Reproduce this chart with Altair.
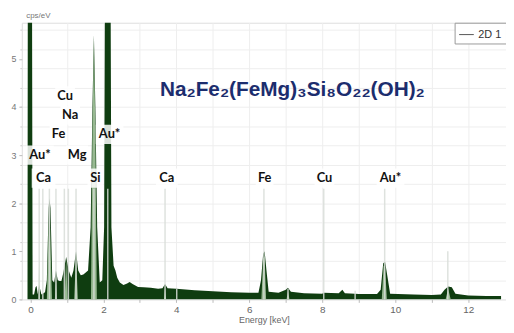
import altair as alt
import pandas as pd

# ---- spectrum (keV, cps/eV) ----
energy = [-0.08, -0.07, 0.04, 0.06, 0.10, 0.14, 0.17, 0.20, 0.24, 0.30, 0.40, 0.45, 0.50, 0.52, 0.55,
          0.60, 0.65, 0.70, 0.75, 0.80, 0.85, 0.90, 0.98, 1.05, 1.12, 1.18, 1.25, 1.31, 1.38, 1.45,
          1.50, 1.58, 1.65, 1.70, 1.74, 1.78, 1.83, 1.90, 1.97, 2.02, 2.05, 2.19, 2.22, 2.28, 2.33,
          2.38, 2.45, 2.55, 2.65, 2.72, 2.80, 2.95, 3.10, 3.30, 3.50, 3.62, 3.69, 3.76, 4.00, 4.50,
          5.00, 5.50, 6.00, 6.25, 6.32, 6.38, 6.42, 6.47, 6.53, 6.80, 7.00, 7.06, 7.14, 7.50, 8.00,
          8.04, 8.45, 8.55, 8.62, 8.90, 9.00, 9.50, 9.60, 9.67, 9.72, 9.78, 9.86, 10.50, 11.00, 11.25,
          11.35, 11.45, 11.55, 11.65, 12.00, 12.50, 12.90]
counts = [0.0, 8.0, 8.0, 0.1, 0.1, 0.25, 0.28, 0.1, 0.3, 0.1, 0.15, 0.4, 1.9, 2.1, 1.9,
          0.4, 0.35, 0.6, 0.4, 0.38, 0.38, 0.55, 0.88, 0.6, 0.45, 0.6, 1.0, 0.6, 0.5, 0.52,
          0.55, 0.6, 1.5, 4.0, 5.5, 4.0, 1.5, 0.35, 0.4, 1.5, 8.0, 8.0, 1.5, 0.7, 0.6,
          0.45, 0.35, 0.3, 0.33, 0.36, 0.32, 0.26, 0.25, 0.24, 0.22, 0.23, 0.32, 0.23, 0.22, 0.19,
          0.17, 0.15, 0.14, 0.14, 0.4, 0.95, 1.0, 0.6, 0.16, 0.14, 0.2, 0.24, 0.16, 0.13, 0.12,
          0.14, 0.13, 0.2, 0.13, 0.12, 0.11, 0.11, 0.2, 0.75, 0.78, 0.5, 0.12, 0.1, 0.09, 0.1,
          0.2, 0.27, 0.25, 0.12, 0.08, 0.07, 0.07]
series_name = "2D 1"

# ---- fitted peak components (light overlay) ----
fit_peak = (["AuN"] * 3 + ["O"] * 5 + ["FeL"] * 3 + ["NaCu"] * 3 + ["Mg"] * 3 + ["Si"] * 5 +
            ["Ca"] * 3 + ["Fe"] * 4 + ["FeKb"] * 3 + ["AuLa"] * 4 + ["AuLb"] * 3)
fit_energy = [0.22, 0.24, 0.26,
              0.45, 0.49, 0.52, 0.55, 0.59,
              0.67, 0.70, 0.73,
              0.94, 0.98, 1.02,
              1.20, 1.25, 1.30,
              1.66, 1.70, 1.74, 1.78, 1.82,
              3.66, 3.69, 3.72,
              6.33, 6.38, 6.42, 6.46,
              7.02, 7.06, 7.10,
              9.63, 9.68, 9.72, 9.77,
              11.38, 11.45, 11.52]
fit_counts = [0.0, 0.95, 0.0,
              0.0, 1.2, 2.0, 1.2, 0.0,
              0.0, 0.55, 0.0,
              0.0, 0.85, 0.0,
              0.0, 0.95, 0.0,
              0.0, 3.5, 5.4, 3.5, 0.0,
              0.0, 0.28, 0.0,
              0.0, 0.85, 0.9, 0.0,
              0.0, 0.18, 0.0,
              0.0, 0.7, 0.7, 0.0,
              0.0, 0.22, 0.0]

# ---- element marker lines ----
line_energy = [0.24, 0.34, 0.52, 0.70, 0.93, 1.04, 1.25, 1.74, 2.12, 3.69, 6.40, 8.04, 9.71,
               4.01, 7.06, 8.90, 11.44]
line_top = [2.3, 2.3, 2.3, 2.3, 2.3, 2.3, 2.3, 2.3, 2.3, 2.3, 2.3, 2.3, 2.3,
            0.22, 0.22, 0.18, 1.0]

# ---- element labels ----
label_text = ["Cu", "Na", "Fe", "Au*", "Mg", "Au*", "Ca", "Si", "Ca", "Fe", "Cu", "Au*"]
label_energy = [0.95, 1.09, 0.77, 0.26, 1.28, 2.17, 0.36, 1.78, 3.74, 6.42, 8.06, 9.87]
label_level = [4.23, 3.83, 3.43, 3.0, 3.0, 3.43, 2.52, 2.52, 2.52, 2.52, 2.52, 2.52]
label_box = [20, 20, 18, 28, 22, 28, 24, 16, 22, 18, 20, 28]

formula = "Na\u2082Fe\u2082(FeMg)\u2083Si\u2088O\u2082\u2082(OH)\u2082"
formula_energy = [3.55]
formula_level = [4.35]

# axis tick positions
x_ticks = [i * 0.5 for i in range(0, 26)]
y_label_ticks = [0, 1, 2, 3, 4, 5]
y_grid_ticks = [round(i * 0.4, 1) for i in range(0, 15)]

spec = pd.DataFrame({"E": energy, "I": counts, "s": series_name})
fit = pd.DataFrame({"E": fit_energy, "I": fit_counts, "peak": fit_peak})
lines = pd.DataFrame({"E": line_energy, "top": line_top, "base": 0.0})
labels = pd.DataFrame({"t": label_text, "E": label_energy, "y": label_level,
                       "lo": [v - 0.2 for v in label_level], "hi": [v + 0.2 for v in label_level],
                       "w": label_box})
form = pd.DataFrame({"t": [formula], "E": formula_energy, "y": formula_level})

xscale = alt.Scale(domain=[-0.1, 12.9], nice=False, zero=False)
yscale = alt.Scale(domain=[0, 5.75], nice=False)

xaxis = alt.Axis(values=x_ticks, labelExpr="datum.value % 2 == 0 ? format(datum.value, 'd') : ''",
                 labelOverlap=False,
                 title="Energy [keV]", titleFontSize=9, titleColor="#666", titleFontWeight="normal",
                 titlePadding=1, labelColor="#666", labelFontSize=10, tickColor="#bbb", tickSize=3,
                 domain=False, gridColor="#eeeeee", labelPadding=2)
yaxis = alt.Axis(values=y_label_ticks, format="d", labelOverlap=False, grid=False,
                 title="cps/eV", titleAngle=0, titleAlign="left", titleBaseline="bottom",
                 titleX=4, titleY=-3, titleFontSize=8, titleColor="#777", titleFontWeight="normal",
                 labelColor="#777", labelFontSize=9, labelPadding=3, tickColor="#bbb", tickSize=3,
                 domain=False, orient="left")
ygrid = alt.Axis(values=y_grid_ticks, labels=False, title=None, grid=True, gridColor="#eeeeee",
                 ticks=True, tickSize=2, tickColor="#ccc", domain=False, orient="left")

area = alt.Chart(spec).mark_area(clip=True, interpolate="linear").encode(
    x=alt.X("E:Q", scale=xscale, axis=xaxis),
    y=alt.Y("I:Q", scale=yscale, axis=yaxis),
    color=alt.Color("s:N", scale=alt.Scale(range=["#0f3d10"]),
                    legend=alt.Legend(title=None, orient="top-right", offset=0, symbolType="stroke",
                                      symbolStrokeColor="#555", symbolStrokeWidth=1, symbolSize=220,
                                      labelFontSize=11, labelColor="#333", fillColor="white",
                                      strokeColor="#999", padding=4)),
)

fit_layer = alt.Chart(fit).mark_area(clip=True, color="#a6c6a0", opacity=0.9).encode(
    x=alt.X("E:Q", scale=xscale),
    y=alt.Y("I:Q", scale=yscale, axis=ygrid),
    detail="peak:N",
)

rules = alt.Chart(lines).mark_rule(color="#d8ddd8", strokeWidth=1.5, opacity=0.85).encode(
    x=alt.X("E:Q", scale=xscale),
    y=alt.Y("base:Q", scale=yscale, axis=None),
    y2="top:Q",
)

boxes = alt.Chart(labels).mark_bar(color="white", opacity=0.85).encode(
    x=alt.X("E:Q", scale=xscale),
    y=alt.Y("lo:Q", scale=yscale, axis=None),
    y2="hi:Q",
    size=alt.Size("w:Q", scale=None, legend=None),
)

texts = alt.Chart(labels).mark_text(font="Lato", fontWeight="bold", fontSize=13, color="#111",
                                    align="center", baseline="middle").encode(
    x=alt.X("E:Q", scale=xscale),
    y=alt.Y("y:Q", scale=yscale, axis=None),
    text="t:N",
)

form_text = alt.Chart(form).mark_text(font="Liberation Sans", fontWeight="bold", fontSize=21,
                                      color="#1c2d6e", align="left", baseline="middle").encode(
    x=alt.X("E:Q", scale=xscale),
    y=alt.Y("y:Q", scale=yscale, axis=None),
    text="t:N",
)

chart = alt.layer(area, fit_layer, rules, boxes, texts, form_text).resolve_axis(
    y="independent"
).properties(
    width=490, height=280,
    autosize=alt.AutoSizeParams(type="none"),
    padding={"left": 14, "top": 13, "right": 0, "bottom": 24},
).configure_view(stroke="#cccccc").configure(background="white")

chart.save("out.html", embed_options={"renderer": "svg", "actions": False})
